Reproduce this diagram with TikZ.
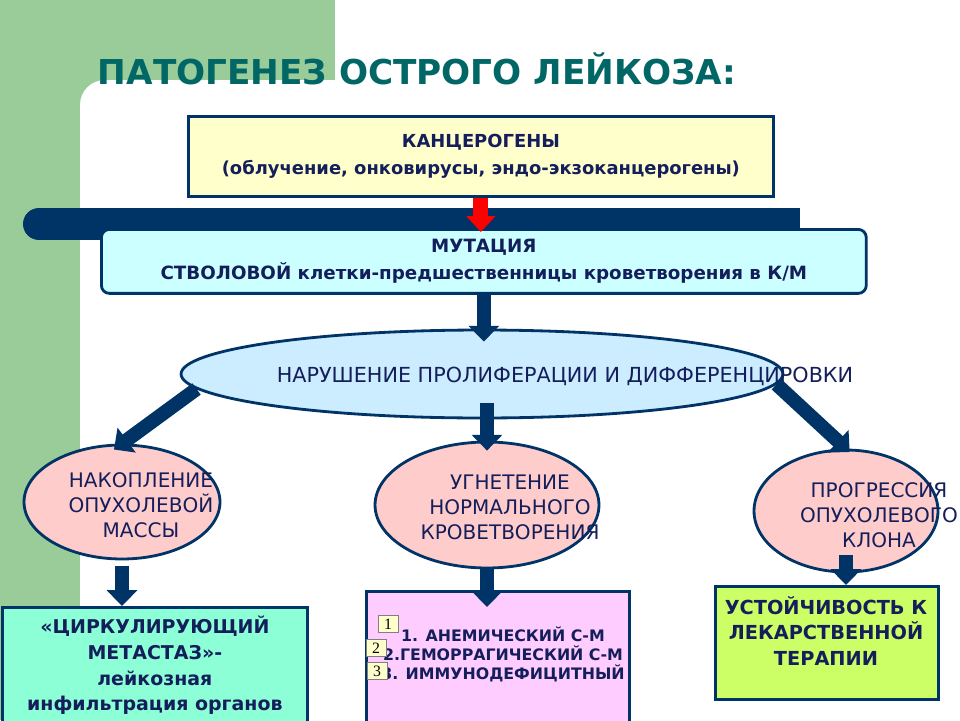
\documentclass[tikz,border=0pt]{standalone}
\usepackage{fontspec}
\setmainfont{DejaVu Sans}
\newfontfamily\numfont{Liberation Serif}
\usetikzlibrary{shapes.geometric,arrows.meta}

\definecolor{bggreen}{RGB}{153,204,153}
\definecolor{titleteal}{RGB}{0,102,102}
\definecolor{navy}{RGB}{0,51,102}
\definecolor{inknavy}{RGB}{20,30,90}
\definecolor{cancyellow}{RGB}{255,255,204}
\definecolor{mutcyan}{RGB}{204,255,255}
\definecolor{prolifblue}{RGB}{204,236,255}
\definecolor{cellpink}{RGB}{255,204,204}
\definecolor{metastaqua}{RGB}{140,255,214}
\definecolor{anempink}{RGB}{255,204,255}
\definecolor{resistlime}{RGB}{204,255,102}

\begin{document}
\begin{tikzpicture}[x=0.02cm, y=-0.02cm,
    box/.style={draw=navy, line width=1.6pt, inner sep=0pt, anchor=north west},
    cell/.style={ellipse, draw=navy, line width=1.6pt, fill=cellpink, inner sep=0pt},
    txt/.style={text=inknavy, align=center, inner sep=0pt},
    bigarrow/.style={navy, line width=8pt, -{Triangle[length=9pt,width=17pt]}},
    tag/.style={draw=gray, fill=cancyellow, inner sep=0pt, minimum width=0.4cm, minimum height=0.35cm, font=\numfont\fontsize{9}{9}\selectfont}]
    \useasboundingbox (0,0) rectangle (960,720);

    %FON
    \fill[bggreen] (0,0) rectangle (335,720);
    \fill[white, rounded corners=0.5cm] (80,80) rectangle (1000,760);
    \node[text=titleteal, font=\fontsize{19.5}{20}\selectfont\bfseries] (title) at (417,69) {ПАТОГЕНЕЗ ОСТРОГО ЛЕЙКОЗА:};

    %KANCEROGENY
    \node[box, fill=cancyellow, minimum width=11.7cm, minimum height=1.6cm, txt, font=\fontsize{10.2}{15.3}\selectfont\bfseries] (canc) at (187,115) {КАНЦЕРОГЕНЫ\\(облучение, онковирусы, эндо-экзоканцерогены)};

    %POLOSA
    \fill[navy] (39,224) circle[radius=0.32cm];
    \fill[navy] (39,208) rectangle (800,240);

    %MUTACIYA
    \node[box, fill=mutcyan, rounded corners=0.16cm, minimum width=15.3cm, minimum height=1.28cm, txt, font=\fontsize{10.4}{15.3}\selectfont\bfseries] (mut) at (100,228) {МУТАЦИЯ\\СТВОЛОВОЙ клетки-предшественницы кроветворения в К/М};
    \draw[red, line width=8.5pt, -{Triangle[length=9pt,width=16pt]}, shorten >=-0.08cm] (canc.south) -- (canc.south |- mut.north);

    %NARUSHENIE
    \node[ellipse, draw=navy, line width=1.6pt, fill=prolifblue, minimum width=12.04cm, minimum height=1.76cm, inner sep=0pt] (prolif) at (482,374) {};
    \node[txt, font=\fontsize{11.8}{12}\selectfont] (proliftxt) at (565,376) {НАРУШЕНИЕ ПРОЛИФЕРАЦИИ И ДИФФЕРЕНЦИРОВКИ};
    \draw[bigarrow, shorten >=-0.26cm] (mut.south) -- (mut.south |- prolif.north);

    %KLETKI
    \node[cell, minimum width=3.92cm, minimum height=2.28cm] (accum) at (122,502) {};
    \node[txt, font=\fontsize{11.4}{14.2}\selectfont] (accumtxt) at (141,505) {НАКОПЛЕНИЕ\\ОПУХОЛЕВОЙ\\МАССЫ};
    \node[cell, minimum width=4.48cm, minimum height=2.52cm] (supp) at (487,505) {};
    \node[txt, font=\fontsize{11.4}{14.2}\selectfont] (supptxt) at (510,507) {УГНЕТЕНИЕ\\НОРМАЛЬНОГО\\КРОВЕТВОРЕНИЯ};
    \node[cell, minimum width=3.68cm, minimum height=2.44cm] (prog) at (846,511) {};
    \node[txt, font=\fontsize{11.4}{14.2}\selectfont] (progtxt) at (879,515) {ПРОГРЕССИЯ\\ОПУХОЛЕВОГО\\КЛОНА};

    \draw[bigarrow, shorten >=-0.2cm] (prolif.183) -- (accum.north);
    \draw[bigarrow, shorten <=0.58cm, shorten >=-0.2cm] (supp.north |- prolif.center) -- (supp.north);
    \draw[bigarrow, shorten >=-0.1cm] (prolif.358) -- (prog.north);

    %ISHODY
    \node[box, fill=metastaqua, minimum width=6.1cm, minimum height=2.32cm, txt, font=\fontsize{10.8}{14.7}\selectfont\bfseries] (metast) at (1,606) {«ЦИРКУЛИРУЮЩИЙ\\МЕТАСТАЗ»-\\лейкозная\\инфильтрация органов};
    \node[box, fill=anempink, minimum width=5.26cm, minimum height=2.8cm] (anem) at (365,590) {};
    \node[txt, font=\fontsize{9}{10.8}\selectfont\bfseries] (anemtxt) at (503,654) {1. АНЕМИЧЕСКИЙ С-М\\2.ГЕМОРРАГИЧЕСКИЙ С-М\\3. ИММУНОДЕФИЦИТНЫЙ};
    \node[box, fill=resistlime, minimum width=4.46cm, minimum height=2.26cm] (resist) at (714,585) {};
    \node[txt, font=\fontsize{11}{14.7}\selectfont\bfseries] (resisttxt) at (826,631) {УСТОЙЧИВОСТЬ К\\ЛЕКАРСТВЕННОЙ\\ТЕРАПИИ};

    \draw[bigarrow, shorten <=1.28cm] (accum.center) -- (accum.center |- metast.north);
    \draw[bigarrow, shorten <=1.26cm, shorten >=-0.34cm] (supp.center) -- (supp.center |- anem.north);
    \draw[bigarrow, shorten <=0.88cm] (prog.center) -- (prog.center |- resist.north);

    %NOMERA
    \node[tag] (tagone) at (388,624) {1};
    \node[tag] (tagtwo) at (376,648) {2};
    \node[tag] (tagthree) at (377,671) {3};
\end{tikzpicture}
\end{document}
